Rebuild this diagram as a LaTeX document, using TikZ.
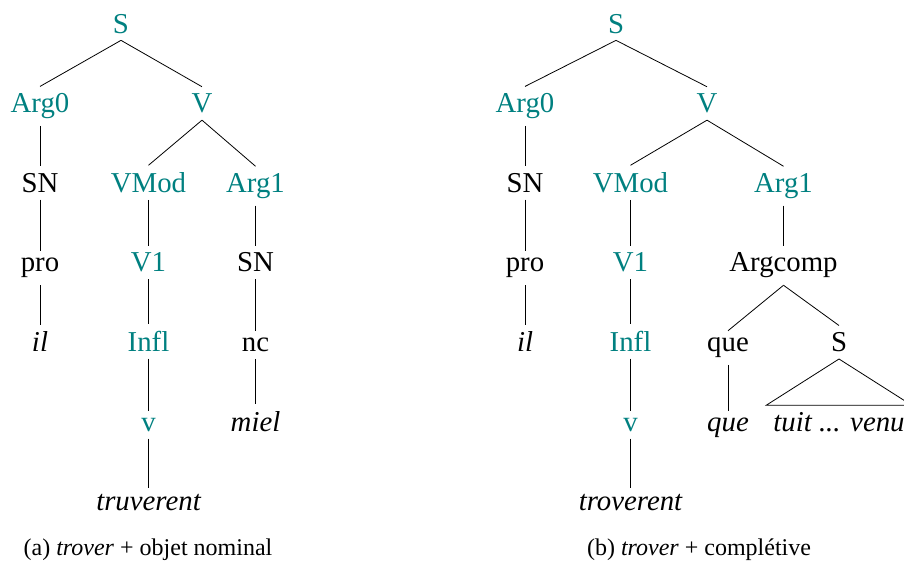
\documentclass[tikz,border=0pt]{standalone}
\usepackage{fontspec}
\setmainfont{LiberationSerif}[ItalicFont=LiberationSerif-Italic]
\begin{document}
\begin{tikzpicture}[
        font=\fontsize{14.4}{17}\selectfont,
        every node/.style={anchor=base},
        growth parent anchor=base,
        parent anchor=south, child anchor=north,
        level distance=39.83pt,
        cat/.style={text=teal},
        word/.style={font=\fontsize{14.4}{17}\selectfont\itshape},
        roof/.style={edge from parent path={(\tikzparentnode.south) -- (\tikzchildnode.north west) -- (\tikzchildnode.north east) -- cycle}},
        legend/.style={font=\fontsize{12}{14}\selectfont},
        ]
    \useasboundingbox (0,0) rectangle (452pt,-281.5pt);
    % (a) trover + objet nominal
    \begin{scope}[level 1/.style={sibling distance=81pt},
                  level 2/.style={sibling distance=53.5pt}]
    \node (lS) [cat] at (60.5pt,-16.5pt) {S}
    child {
        node [cat] (lArg0) {Arg0}
        child {
            node (lSN) {SN}
            child {
                node (lpro) {pro}
                child { node [word] (lil) {il} }
            }
        }
    }
    child {
        node [cat] (lV) {V}
        child {
            node [cat] (lVMod) {VMod}
            child {
                node [cat] (lV1) {V1}
                child {
                    node [cat] (lInfl) {Infl}
                    child {
                        node [cat] (lv) {v}
                        child { node [word] (ltruv) {truverent} }
                    }
                }
            }
        }
        child {
            node [cat] (lArg1) {Arg1}
            child {
                node (lSNb) {SN}
                child {
                    node (lnc) {nc}
                    child { node [word] (lmiel) {miel} }
                }
            }
        }
    }
    ; % end of tree (a)
    \end{scope}
    % (b) trover + completive
    \begin{scope}[level 1/.style={sibling distance=91pt},
                  level 2/.style={sibling distance=76.5pt},
                  level 4/.style={sibling distance=55.5pt}]
    \node (rS) [cat] at (308pt,-16.5pt) {S}
    child {
        node [cat] (rArg0) {Arg0}
        child {
            node (rSN) {SN}
            child {
                node (rpro) {pro}
                child { node [word] (ril) {il} }
            }
        }
    }
    child {
        node [cat] (rV) {V}
        child {
            node [cat] (rVMod) {VMod}
            child {
                node [cat] (rV1) {V1}
                child {
                    node [cat] (rInfl) {Infl}
                    child {
                        node [cat] (rv) {v}
                        child { node [word] (rtrov) {troverent} }
                    }
                }
            }
        }
        child {
            node [cat] (rArg1) {Arg1}
            child {
                node (rArgcomp) {Argcomp}
                child {
                    node (rque) {que}
                    child { node [word] (rquew) {que} }
                }
                child {
                    node (rSb) {S}
                    child [roof] { node [word] (rtuit) {tuit ... venu} }
                }
            }
        }
    }
    ; % end of tree (b)
    \end{scope}
    \node [legend] (capa) at (74pt,-277.5pt) {(a) \textit{trover} + objet nominal};
    \node [legend] (capb) at (349.5pt,-277.5pt) {(b) \textit{trover} + complétive};
\end{tikzpicture}
\end{document}
